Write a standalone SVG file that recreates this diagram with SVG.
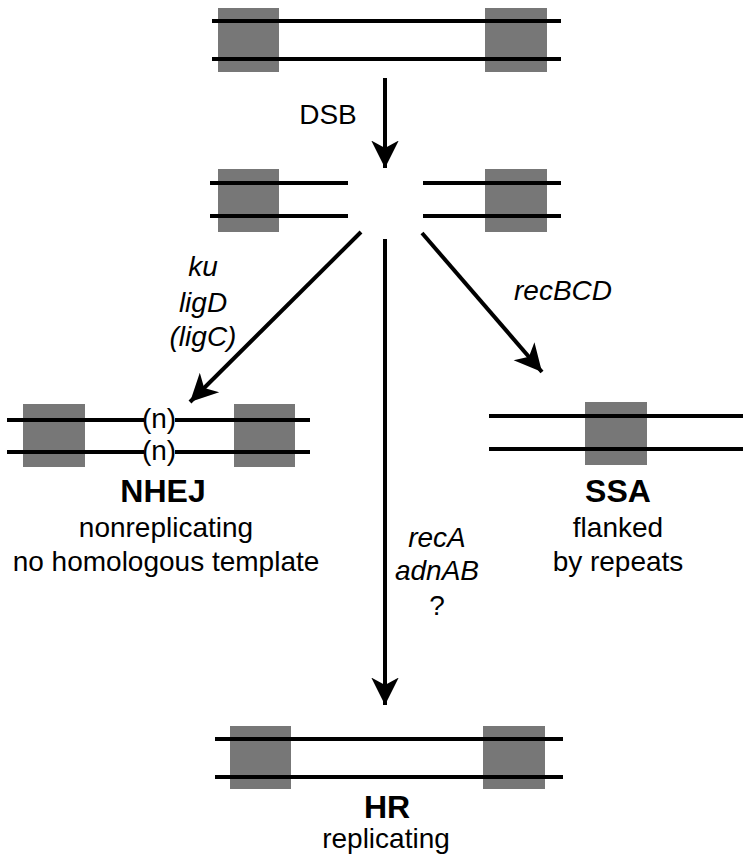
<svg xmlns="http://www.w3.org/2000/svg" width="750" height="862" viewBox="0 0 750 862">
<style>
.box{fill:#777777;stroke:none}
.dna{stroke:#000;stroke-width:4;fill:none}
.arr{stroke:#000;stroke-width:4;fill:none}
text{font-family:"Liberation Sans",Arial,sans-serif;fill:#000;text-anchor:middle}
.t{font-size:28px}
.i{font-size:28px;font-style:italic}
.b{font-size:32px;font-weight:bold}
</style>
<defs>
<marker id="ah" markerUnits="userSpaceOnUse" markerWidth="30" markerHeight="30" refX="22" refY="11" orient="auto" viewBox="0 0 24 22">
<path d="M22,11 L0,0 L6,11 L0,22 Z" fill="#000"/>
</marker>
</defs>
<rect width="750" height="862" fill="#fff"/>
<g id="intact">
<rect class="box" x="218" y="8" width="61" height="64"/>
<rect class="box" x="485" y="8" width="62" height="64"/>
<line class="dna" x1="212" y1="21" x2="561" y2="21"/>
<line class="dna" x1="212" y1="59" x2="561" y2="59"/>
</g>
<g id="broken">
<rect class="box" x="218" y="169" width="61" height="63"/>
<rect class="box" x="485" y="169" width="62" height="63"/>
<line class="dna" x1="210" y1="183" x2="348" y2="183"/>
<line class="dna" x1="210" y1="216" x2="348" y2="216"/>
<line class="dna" x1="423" y1="183" x2="561" y2="183"/>
<line class="dna" x1="423" y1="216" x2="561" y2="216"/>
</g>
<g id="nhej">
<rect class="box" x="23" y="404" width="62" height="63"/>
<rect class="box" x="234" y="404" width="61" height="63"/>
<line class="dna" x1="7" y1="420" x2="144" y2="420"/>
<line class="dna" x1="175" y1="420" x2="310" y2="420"/>
<line class="dna" x1="7" y1="452" x2="144" y2="452"/>
<line class="dna" x1="175" y1="452" x2="310" y2="452"/>
<text class="t" x="159" y="428">(n)</text>
<text class="t" x="159" y="460">(n)</text>
<text class="b" x="163" y="502">NHEJ</text>
<text class="t" x="166" y="537">nonreplicating</text>
<text class="t" x="166" y="571">no homologous template</text>
</g>
<g id="ssa">
<rect class="box" x="585" y="402" width="62" height="63"/>
<line class="dna" x1="489" y1="416" x2="743" y2="416"/>
<line class="dna" x1="489" y1="449" x2="743" y2="449"/>
<text class="b" x="618" y="502">SSA</text>
<text class="t" x="618" y="537">flanked</text>
<text class="t" x="618" y="571">by repeats</text>
</g>
<g id="hr">
<rect class="box" x="230" y="726" width="61" height="63"/>
<rect class="box" x="483" y="726" width="62" height="63"/>
<line class="dna" x1="215" y1="739" x2="563" y2="739"/>
<line class="dna" x1="215" y1="777" x2="563" y2="777"/>
<text class="b" x="387" y="818">HR</text>
<text class="t" x="386" y="848">replicating</text>
</g>
<g id="connectors">
<line class="arr" x1="385" y1="78" x2="385" y2="168" marker-end="url(#ah)"/>
<line class="arr" x1="361" y1="232" x2="190" y2="402" marker-end="url(#ah)"/>
<line class="arr" x1="422" y1="233" x2="542" y2="372" marker-end="url(#ah)"/>
<line class="arr" x1="385" y1="239" x2="385" y2="705" marker-end="url(#ah)"/>
<text class="t" x="328" y="124">DSB</text>
<text class="i" x="203" y="276">ku</text>
<text class="i" x="203" y="312">ligD</text>
<text class="i" x="203" y="346">(ligC)</text>
<text class="i" x="563" y="300">recBCD</text>
<text class="i" x="437" y="547">recA</text>
<text class="i" x="437" y="580">adnAB</text>
<text class="t" x="437" y="615">?</text>
</g>
</svg>
